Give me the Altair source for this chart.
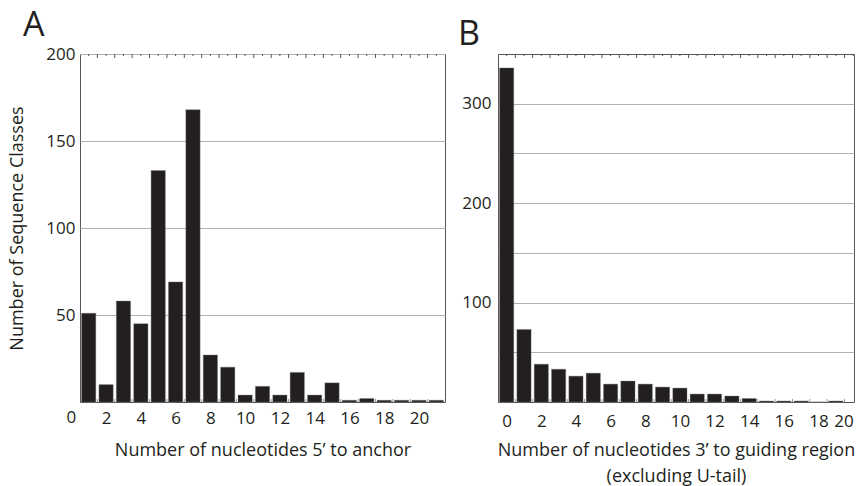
import altair as alt
import pandas as pd
import math

# ---------------- data ----------------
a_pos = list(range(1, 22))
a_counts = [51, 10, 58, 45, 133, 69, 168, 27, 20, 4, 9, 4, 17, 4, 11, 1, 2, 1, 1, 1, 1]
a_xlabels = [0, 2, 4, 6, 8, 10, 12, 14, 16, 18, 20]
a_ygrid = [50, 100, 150, 200]
a_ylabels = [50, 100, 150, 200]

b_pos = list(range(0, 20))
b_counts = [336, 73, 38, 33, 26, 29, 18, 21, 18, 15, 14, 8, 8, 6, 3.5, 1, 1, 1, 0, 1]
b_xlabels = [0, 2, 4, 6, 8, 10, 12, 14, 16, 18, 20]
b_ygrid = [50, 100, 150, 200, 250, 300]
b_ylabels = [100, 200, 300]

a_xtitle = "Number of nucleotides 5\u2019 to anchor"
b_xtitle = ["Number of nucleotides 3\u2019 to guiding region", "(excluding U-tail)"]
ytitle = "Number of Sequence Classes"

FONT = "Open Sans"
INK = "#231f20"
FRAME = "#555555"
H = 348
LFS = 17   # tick label font size
TFS = 18   # axis title font size


def panel(pos, counts, xdom, ydom, xlabels, ygrid, ylabels, xtitle, ytitle_txt,
          letter, letter_dx, width, lab_pad, title_pad):
    bars_df = pd.DataFrame({"pos": pos, "count": counts})
    lo, hi = xdom
    centers = [c for c in range(math.ceil(lo), math.floor(hi) + 1)]
    bounds = [c + 0.5 for c in centers if lo < c + 0.5 < hi]
    centers_df = pd.DataFrame({"t": centers})
    bounds_df = pd.DataFrame({"t": bounds})
    outside = pd.DataFrame({"v": [v for v in xlabels if v < lo or v > hi]})

    xscale = alt.Scale(domain=xdom, nice=False, zero=False)
    yscale = alt.Scale(domain=ydom, nice=False, zero=True)

    xaxis = alt.Axis(values=xlabels, title=xtitle, grid=False,
                     labelPadding=lab_pad, titlePadding=title_pad, titleLineHeight=26,
                     labelFontSize=LFS, titleFontSize=TFS, titleFont=FONT,
                     labelFont=FONT)

    lab_expr = "indexof(%s, datum.value) >= 0 ? datum.label : ''" % str(ylabels)
    if ytitle_txt is not None:
        yaxis = alt.Axis(values=ygrid, labelExpr=lab_expr, grid=True,
                         title=ytitle_txt, labelPadding=5, titlePadding=19,
                         labelFontSize=LFS, titleFontSize=TFS, titleFont=FONT,
                         labelFont=FONT)
    else:
        yaxis = alt.Axis(values=ygrid, labelExpr=lab_expr, grid=True,
                         title=None, labelPadding=7, labelFontSize=LFS,
                         labelFont=FONT)

    bars = alt.Chart(bars_df).transform_calculate(
        x0="datum.pos - 0.41", x1="datum.pos + 0.41"
    ).mark_bar(color=INK, stroke="#777777", strokeWidth=0.4).encode(
        x=alt.X("x0:Q", scale=xscale, axis=xaxis),
        x2="x1:Q",
        y=alt.Y("count:Q", scale=yscale, axis=yaxis),
        y2=alt.datum(0),
    )

    top_long = alt.Chart(bounds_df).mark_rule(color=FRAME, strokeWidth=1).encode(
        x=alt.X("t:Q", scale=xscale, axis=xaxis), y=alt.value(0), y2=alt.value(4))
    top_short = alt.Chart(centers_df).mark_rule(color=FRAME, strokeWidth=1).encode(
        x=alt.X("t:Q", scale=xscale, axis=xaxis), y=alt.value(0), y2=alt.value(2))
    bottom = alt.Chart(bounds_df).mark_rule(color="#999999", strokeWidth=1).encode(
        x=alt.X("t:Q", scale=xscale, axis=xaxis), y=alt.value(H), y2=alt.value(H - 3))

    layers = [bars, bottom, top_long, top_short]
    if len(outside):
        zero_lab = alt.Chart(outside).mark_text(
            font=FONT, fontSize=LFS, color=INK, baseline="top", align="center"
        ).encode(x=alt.X("v:Q", scale=xscale, axis=xaxis), y=alt.value(H + lab_pad),
                 text=alt.Text("v:Q"))
        layers.append(zero_lab)

    return alt.layer(*layers).properties(
        width=width, height=H,
        title=alt.TitleParams(letter, anchor="start", frame="group", dx=letter_dx,
                              fontSize=34, fontWeight="normal", font=FONT, color=INK,
                              offset=-25, baseline="alphabetic"),
    )


pa = panel(a_pos, a_counts, [0.5, 21.5], [0, 200], a_xlabels, a_ygrid, a_ylabels,
           a_xtitle, ytitle, "A", -57, 365, 8, 15)
pb = panel(b_pos, b_counts, [-0.5, 20.05], [0, 350], b_xlabels, b_ygrid, b_ylabels,
           b_xtitle, None, "B", -40, 356, 11, 12)

chart = alt.hconcat(pa, pb, spacing=53, bounds="flush").properties(
    padding={"left": 8, "top": 8, "right": 5, "bottom": 0}
).configure_view(
    stroke=FRAME, strokeWidth=1
).configure_axis(
    domain=False, ticks=False,
    labelFont=FONT, labelFontSize=LFS, labelColor=INK,
    titleFont=FONT, titleFontSize=TFS, titleColor=INK, titleFontWeight="normal",
    gridColor="#b0b0b0", gridWidth=1,
).configure_text(font=FONT)

chart.save("out.html", embed_options={"renderer": "svg", "actions": False})
